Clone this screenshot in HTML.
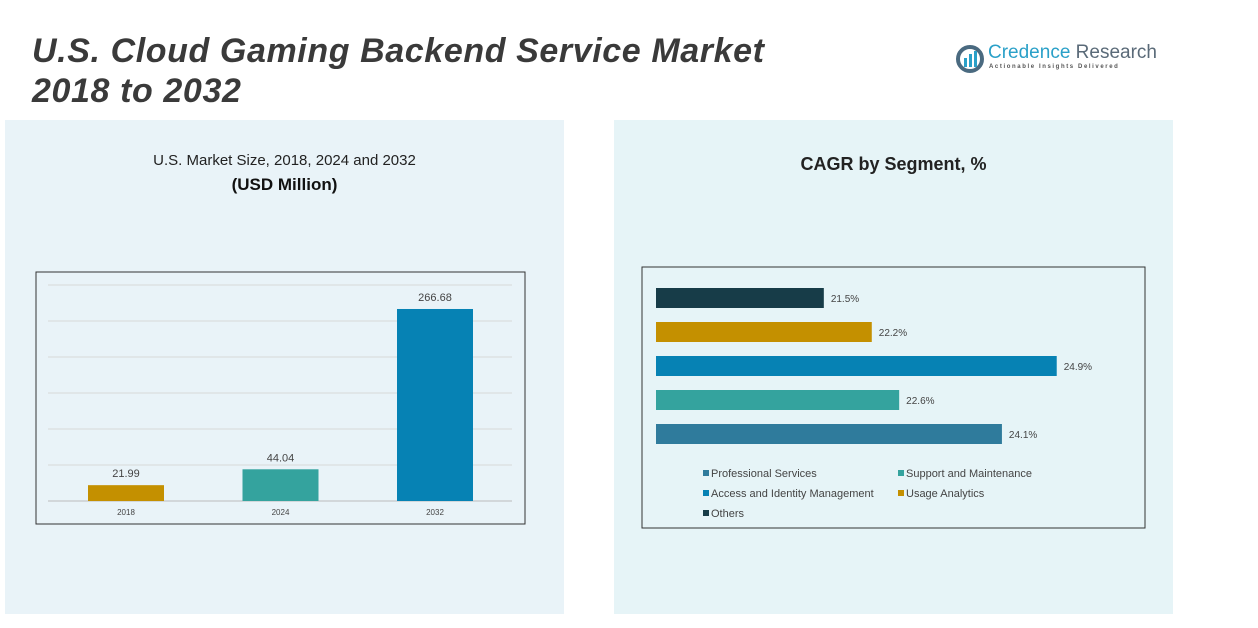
<!DOCTYPE html>
<html><head><meta charset="utf-8"><style>
body{margin:0;width:1258px;height:628px;background:#fff;font-family:"Liberation Sans",sans-serif;position:relative;overflow:hidden}
.abs{position:absolute}
</style></head><body>
<div class="abs" style="left:5px;top:120px;width:559px;height:494px;background:#e9f3f8"></div>
<div class="abs" style="left:614px;top:120px;width:559px;height:494px;background:#e6f4f7"></div>
<div class="abs" style="left:32px;top:31px;font-size:34px;letter-spacing:0.6px;font-weight:bold;font-style:italic;color:#3a3a3a;line-height:40px">U.S. Cloud Gaming Backend Service Market<br>2018 to 2032</div>
<div class="abs" style="left:955px;top:42px;">
<svg width="30" height="30" style="position:absolute;left:0;top:2px"><circle cx="15" cy="15" r="12" fill="none" stroke="#4a6a80" stroke-width="4"/><rect x="9" y="14" width="3" height="9" fill="#2aa0c8"/><rect x="14" y="10" width="3" height="13" fill="#2aa0c8"/><rect x="19" y="7" width="3" height="16" fill="#2aa0c8"/></svg>
<div style="position:absolute;left:33px;top:0;font-size:19px;white-space:nowrap"><span style="color:#2aa0c8">Credence</span> <span style="color:#5a6a78">Research</span></div>
<div style="position:absolute;left:34px;top:22px;font-size:6px;letter-spacing:1.6px;color:#555;white-space:nowrap;font-weight:bold">Actionable Insights Delivered</div>
</div>
<div class="abs" style="left:5px;width:559px;top:152px;text-align:center;font-size:15px;color:#222">U.S. Market Size, 2018, 2024 and 2032</div>
<div class="abs" style="left:5px;width:559px;top:175px;text-align:center;font-size:17px;font-weight:bold;color:#111">(USD Million)</div>
<div class="abs" style="left:614px;width:559px;top:154px;text-align:center;font-size:18px;font-weight:bold;color:#222">CAGR by Segment, %</div>
<svg class="abs" style="left:0;top:0" width="1258" height="628" id="charts">
<rect x="36" y="272" width="489" height="252" fill="none" stroke="#333" stroke-width="1"/>
<rect x="642" y="267" width="503" height="261" fill="none" stroke="#333" stroke-width="1"/>
<g id="left"></g><g id="right"></g>
</svg>
<script>
const years=["2018","2024","2032"];
const sizes=[21.99,44.04,266.68];
const sizeColors=["#c49000","#34a39e","#0682b4"];
const segments=["Others","Usage Analytics","Access and Identity Management","Support and Maintenance","Professional Services"];
const cagr=[21.5,22.2,24.9,22.6,24.1];
const segColors=["#173c48","#c49000","#0682b4","#34a39e","#2f7b9c"];
const gridTicks=[0,50,100,150,200,250,300];
const NS="http://www.w3.org/2000/svg";
function mk(t,a,p){const e=document.createElementNS(NS,t);for(const k in a)e.setAttribute(k,a[k]);p.appendChild(e);return e;}
const L=document.getElementById('left'),R=document.getElementById('right');
const yS=v=>501-v*0.72;
gridTicks.forEach(t=>{if(t===0)return;const g=mk('line',{x1:48,x2:512,y1:yS(t),y2:yS(t),stroke:'#d8d8d8'},L);

});
mk('line',{x1:48,x2:512,y1:501,y2:501,stroke:'#bbb'},L);
const xC=i=>126+i*154.5;
years.forEach((y,i)=>{
const b=mk('rect',{x:xC(i)-38,y:yS(sizes[i]),width:76,height:501-yS(sizes[i]),fill:sizeColors[i]},L);


const v=mk('text',{x:xC(i),y:yS(sizes[i])-8,'text-anchor':'middle','font-size':11,fill:'#444'},L);v.textContent=sizes[i].toFixed(2);


const t=mk('text',{x:xC(i),y:515,'text-anchor':'middle','font-size':8,fill:'#444'},L);t.textContent=y;


});
const xR=v=>656+(v-19.05)*68.5;
segments.forEach((s,i)=>{
const y=288+i*34;
const b=mk('rect',{x:656,y:y,width:xR(cagr[i])-656,height:20,fill:segColors[i]},R);


const v=mk('text',{x:xR(cagr[i])+7,y:y+14,'font-size':10,fill:'#444'},R);v.textContent=cagr[i]+'%';


});
const leg=[["Professional Services",703,477,4],["Support and Maintenance",898,477,3],["Access and Identity Management",703,497,2],["Usage Analytics",898,497,1],["Others",703,517,0]];
leg.forEach(l=>{
const r=mk('rect',{x:l[1],y:l[2]-7,width:6,height:6,fill:segColors[l[3]]},R);


const t=mk('text',{x:l[1]+8,y:l[2],'font-size':11,fill:'#444'},R);t.textContent=l[0];


});
</script>
</body></html>
